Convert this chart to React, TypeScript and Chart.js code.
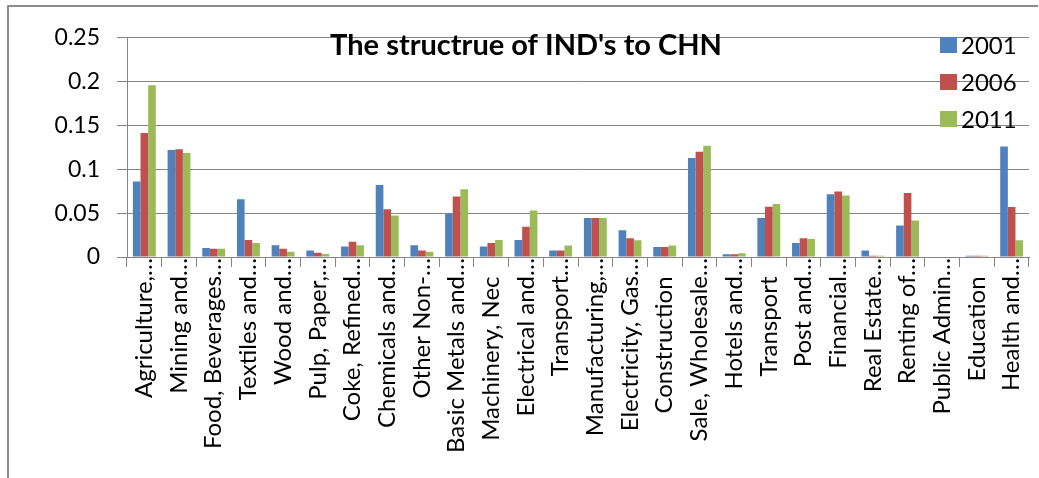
import React, { useEffect, useRef } from "react";
import { Chart, registerables } from "chart.js";

Chart.register(...registerables);

const categories: string[] = [
  "Agriculture,…",
  "Mining and…",
  "Food, Beverages…",
  "Textiles and…",
  "Wood and…",
  "Pulp, Paper,…",
  "Coke, Refined…",
  "Chemicals and…",
  "Other Non-…",
  "Basic Metals and…",
  "Machinery, Nec",
  "Electrical and…",
  "Transport…",
  "Manufacturing,…",
  "Electricity, Gas…",
  "Construction",
  "Sale, Wholesale…",
  "Hotels and…",
  "Transport",
  "Post and…",
  "Financial…",
  "Real Estate…",
  "Renting of…",
  "Public Admin…",
  "Education",
  "Health and…",
];

const values2001: number[] = [
  0.086, 0.122, 0.0104, 0.066, 0.0133, 0.0074, 0.0119, 0.082, 0.0133, 0.0496,
  0.0119, 0.0193, 0.0074, 0.0444, 0.0304, 0.0115, 0.113, 0.003, 0.0444, 0.016,
  0.0715, 0.0074, 0.036, 0, 0.0015, 0.126,
];
const values2006: number[] = [
  0.1415, 0.123, 0.0093, 0.0193, 0.0093, 0.0048, 0.0174, 0.0544, 0.0074, 0.0689,
  0.016, 0.0344, 0.0074, 0.0444, 0.0215, 0.0115, 0.12, 0.003, 0.0572, 0.0215,
  0.0746, 0.0015, 0.073, 0, 0.0015, 0.0571,
];
const values2011: number[] = [
  0.196, 0.1185, 0.0093, 0.016, 0.006, 0.0033, 0.0133, 0.0474, 0.006, 0.0774,
  0.0193, 0.053, 0.013, 0.0444, 0.019, 0.013, 0.127, 0.0044, 0.0604, 0.0204,
  0.0702, 0.0015, 0.0415, 0, 0.0015, 0.019,
];

const seriesLabels: string[] = ["2001", "2006", "2011"];
const seriesColors: string[] = ["#4F81BD", "#C0504D", "#9BBB59"];
const titleText = "The structrue of IND's to CHN";

const FONT = "Lato, 'Open Sans', sans-serif";
const GRID = "#868686";

const overlayPlugin = {
  id: "overlay",
  afterDraw(chart: any) {
    const ctx = chart.ctx;
    ctx.save();
    // title
    ctx.font = `bold 29px ${FONT}`;
    ctx.fillStyle = "#000";
    ctx.textAlign = "center";
    ctx.textBaseline = "middle";
    ctx.fillText(titleText, 517, 39);
    // legend
    chart.data.datasets.forEach((ds: any, i: number) => {
      const y = 38 + i * 37;
      ctx.fillStyle = ds.backgroundColor;
      ctx.fillRect(931, y - 8, 17, 16);
      ctx.fillStyle = "#000";
      ctx.font = `24px ${FONT}`;
      ctx.textAlign = "left";
      ctx.textBaseline = "middle";
      ctx.fillText(ds.label, 952, y + 1);
    });
    ctx.restore();
  },
};

export default function App() {
  const ref = useRef<HTMLCanvasElement>(null);
  useEffect(() => {
    if (!ref.current) return;
    const datasets = [values2001, values2006, values2011].map((d, i) => ({
      label: seriesLabels[i],
      data: d,
      backgroundColor: seriesColors[i],
      borderWidth: 0,
      categoryPercentage: 0.66,
      barPercentage: 1,
    }));
    const chart = new Chart(ref.current, {
      type: "bar",
      data: { labels: categories, datasets },
      options: {
        animation: false,
        responsive: false,
        layout: { padding: { top: 25, right: 9, left: 0, bottom: 0 } },
        plugins: {
          legend: { display: false },
          title: { display: false },
          tooltip: { enabled: false },
        },
        scales: {
          x: {
            grid: {
              display: true,
              drawOnChartArea: false,
              drawTicks: true,
              tickLength: 10,
              color: GRID,
              offset: true,
            },
            border: { color: GRID, width: 1 },
            ticks: {
              autoSkip: false,
              minRotation: 90,
              maxRotation: 90,
              padding: -9,
              color: "#000",
              font: { family: FONT, size: 24 },
              callback: function (this: any, v: any) {
                const s = this.getLabelForValue(v);
                return s.endsWith("…") ? s : s + "   ";
              },
            },
            afterFit(scale: any) {
              scale.height = 221;
            },
          },
          y: {
            min: 0,
            max: 0.25,
            ticks: {
              stepSize: 0.05,
              padding: 17,
              color: "#000",
              font: { family: FONT, size: 23 },
              callback: (v: any) => String(+Number(v).toFixed(2)),
            },
            grid: { color: GRID, tickLength: 10, drawTicks: true },
            border: { color: GRID, width: 1 },
            afterFit(scale: any) {
              scale.width = 118;
            },
          },
        },
      },
      plugins: [overlayPlugin],
    });
    return () => chart.destroy();
  }, []);

  return (
    <div
      style={{
        position: "absolute",
        left: 7,
        top: 5,
        width: 1031,
        height: 473,
        boxSizing: "border-box",
        borderLeft: "2px solid #8c8c8c",
        borderTop: "2px solid #8c8c8c",
        overflow: "hidden",
        background: "#fff",
      }}
    >
      <canvas ref={ref} width={1029} height={471} style={{ display: "block" }} />
    </div>
  );
}
